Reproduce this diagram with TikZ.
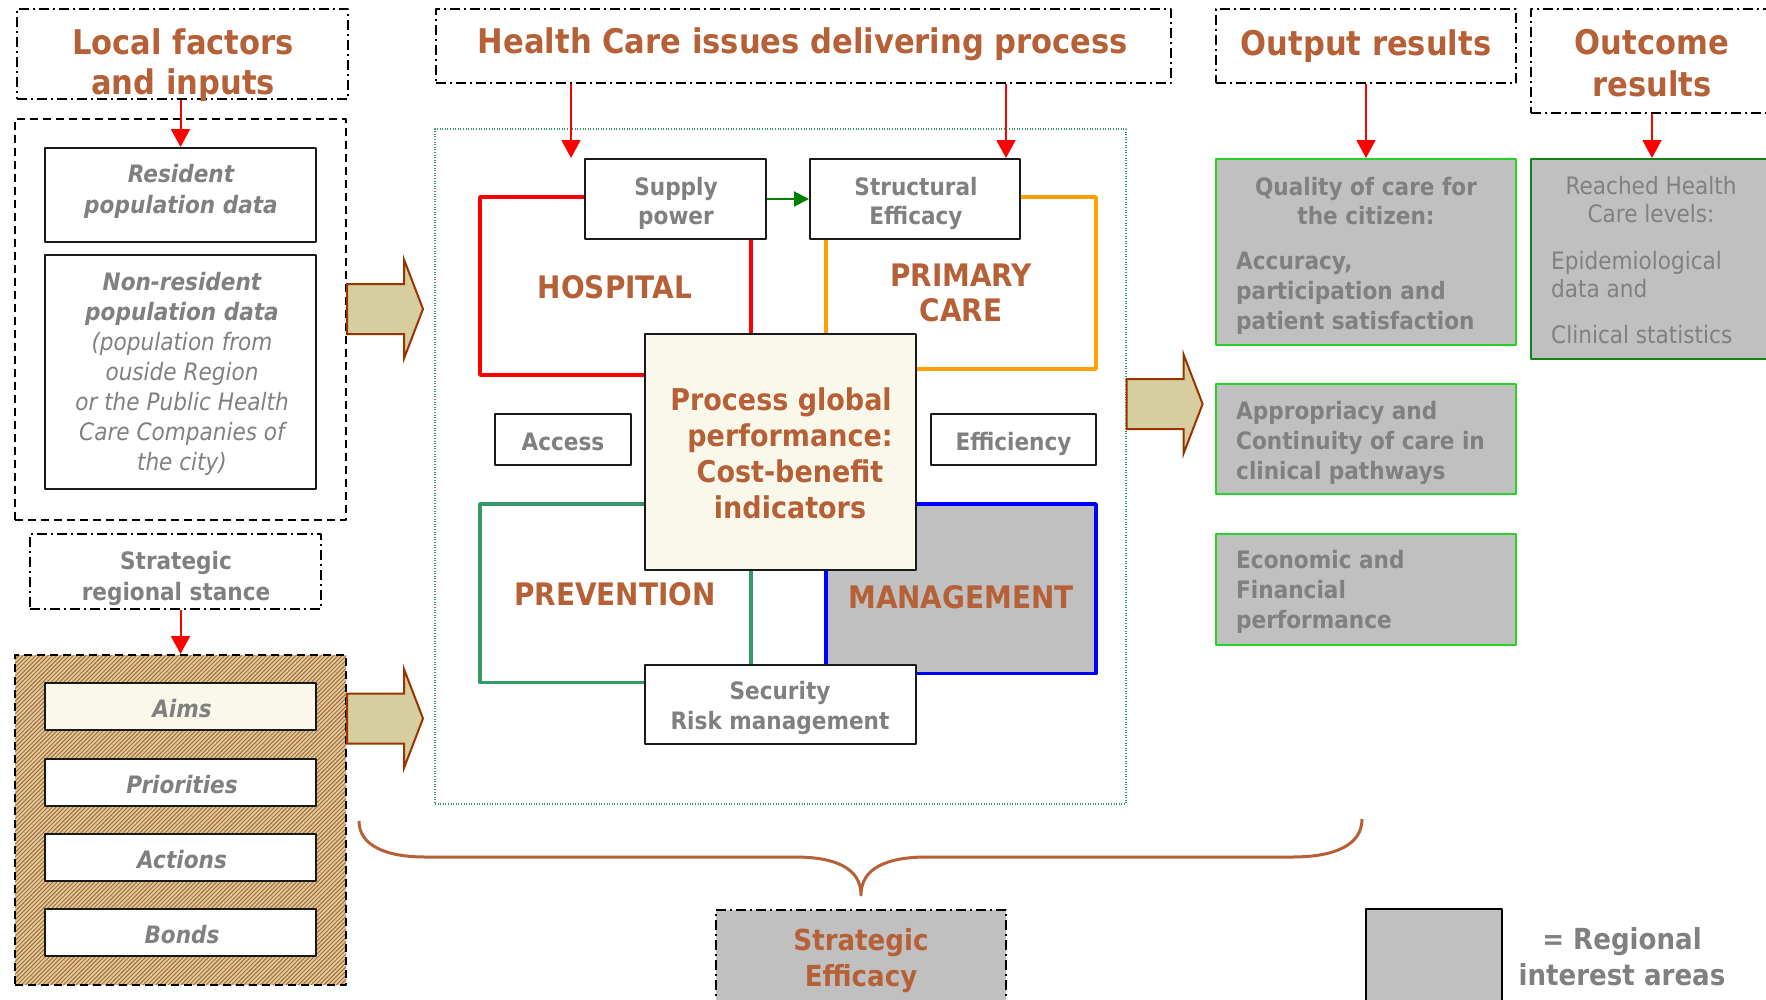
\documentclass[tikz,border=0pt]{standalone}
\usepackage{fontspec}
\setmainfont[FakeStretch=0.9]{DejaVu Sans}
\usetikzlibrary{arrows.meta,fit}

\definecolor{headbrown}{RGB}{181,96,54}
\definecolor{txtgray}{RGB}{128,128,128}
\definecolor{areagray}{RGB}{192,192,192}
\definecolor{khaki}{RGB}{214,206,158}
\definecolor{rust}{RGB}{153,51,0}
\definecolor{stripe}{RGB}{180,104,58}
\definecolor{hospred}{RGB}{255,0,0}
\definecolor{careorange}{RGB}{255,160,0}
\definecolor{prevgreen}{RGB}{51,153,102}
\definecolor{mgmtblue}{RGB}{0,0,255}
\definecolor{outgreen}{RGB}{40,210,40}
\definecolor{darkgreen}{RGB}{20,130,20}
\definecolor{cream}{RGB}{250,248,234}

\newcommand\txtsize[2]{\fontsize{#1}{#2}\selectfont}

% text nodes sit on the baseline of their last line
\tikzset{
  hdbox/.style={draw, line width=2, dash pattern=on 10pt off 4pt on 2pt off 4pt, inner sep=0},
  grpbox/.style={draw, line width=2, dash pattern=on 8pt off 5pt, inner sep=0},
  plainbox/.style={draw=black!90, line width=2, fill=white, inner sep=0},
  areabox/.style={draw=outgreen, line width=2, fill=areagray, inner sep=0},
  quad/.style={line width=3.5, inner sep=0},
  hdtxt/.style={text=headbrown, font=\txtsize{34}{40.7}\bfseries, align=center, anchor=base, inner sep=0},
  quadtxt/.style={text=headbrown, font=\txtsize{31}{35.3}\bfseries, align=center, anchor=base, inner sep=0},
  graytxt/.style={text=txtgray, font=\txtsize{24}{29.6}\bfseries, align=center, anchor=base, inner sep=0},
  redline/.style={draw=red, line width=2},
  greenline/.style={draw=green!50!black, line width=2, -{Triangle[length=15pt,width=15pt]}},
  brace/.style={draw=headbrown, line width=3},
  blockarrow/.pic={
    \draw[draw=rust, fill=khaki, line width=2, line join=miter]
      (0,-25) -- (57,-25) -- (57,-49.5) -- (76,0) -- (57,49.5) -- (57,25) -- (0,25) -- cycle;
  }
}

\begin{document}
\begin{tikzpicture}[x=1pt, y=-1pt, line join=round,
    >={Triangle[length=18pt,width=19pt]}]
  \useasboundingbox (0,0) rectangle (1766,999);
  \clip (0,0) rectangle (1766,999);

  % local factors column
  \node[hdbox, fit={(17,9) (348,99)}] (lfhead) {};
  \node[grpbox, fit={(15,119) (346,520)}] (lfgroup) {};
  \node[plainbox, fit={(45,148) (316,242)}] (resid) {};
  \node[plainbox, fit={(45,255) (316,489)}] (nonres) {};
  \node[hdtxt] (lfhead-t) at (183,94.7) {Local factors\\and inputs};
  \node[graytxt, font=\txtsize{24}{30.4}\bfseries\itshape] (resid-t) at (181,213) {Resident\\population data};
  \node[graytxt, font=\txtsize{24}{29.9}\itshape] (nonres-t) at (182,470)
    {\textbf{Non-resident}\\\textbf{population data}\\(population from\\ouside Region\\or the Public Health\\Care Companies of\\the city)};
  \draw[redline,->] (lfhead.south -| resid.north) -- (resid.north);

  \node[hdbox, fit={(30,534) (321,609)}] (stance) {};
  \node[graytxt, font=\txtsize{24}{31}\bfseries] (stance-t) at (176,600) {Strategic\\regional stance};

  % hatched policy group
  \begin{scope}
    \clip (15,655) rectangle (346,985);
    \fill[khaki] (15,655) rectangle (346,985);
    \foreach \k in {-334,-329.8,...,336}
      \draw[stripe, line width=1] (15+\k,985) -- ++(334,-334);
  \end{scope}
  \node[grpbox, fit={(15,655) (346,985)}] (policy) {};
  \foreach \n/\y/\lbl/\bg in {aims/683/Aims/cream, prio/759/Priorities/white,
      acts/834/Actions/white, bonds/909/Bonds/white} {
    \node[plainbox, fill=\bg, fit={(45,\y) (316,\y+47)}] (\n) {};
    \node[graytxt, font=\txtsize{24}{30}\bfseries\itshape] (\n-t) at (182,\y+34.5) {\lbl};
  }
  \draw[redline,->] (stance.south -| policy.north) -- (policy.north);

  \pic at (lfgroup.east |- 0,309) {blockarrow};
  \pic at (policy.east |- 0,718.5) {blockarrow};

  % delivering process
  \node[hdbox, fit={(436,9) (1171,83)}] (hchead) {};
  \node[hdtxt] (hchead-t) at (803,53) {Health Care issues delivering process};
  \node[draw=prevgreen, line width=1.2, dash pattern=on 1pt off 1.6pt, inner sep=0,
    fit={(435,129) (1126,804)}] (process) {};
  \pic at (process.east |- 0,404) {blockarrow};

  \node[quad, draw=hospred, fit={(480,197) (751,375)}] (hosp) {};
  \node[quad, draw=careorange, fit={(826,197) (1096,369)}] (prim) {};
  \node[quad, draw=prevgreen, fit={(480,504) (751,682.5)}] (prev) {};
  \node[quad, draw=mgmtblue, fill=areagray, fit={(826,504) (1096,673.6)}] (mgmt) {};

  \node[plainbox, fit={(585,159) (766,239)}] (supply) {};
  \node[plainbox, fit={(810,159) (1020,239)}] (struct) {};
  \node[plainbox, fill=cream, fit={(645,334) (916,570)}] (perf) {};
  \node[plainbox, fit={(495,414) (631,465)}] (access) {};
  \node[plainbox, fit={(931,414) (1096,465)}] (effic) {};
  \node[plainbox, fit={(645,665) (916,744)}] (secur) {};
  \draw[greenline] (supply) -- (struct);

  \coordinate (hosptip) at (571,158);
  \coordinate (primtip) at (1006,158);
  \draw[redline,->] (hchead.south -| hosptip) -- (hosptip);
  \draw[redline,->] (hchead.south -| primtip) -- (primtip);

  \node[graytxt] (supply-t) at (676,224.9) {Supply\\power};
  \node[graytxt] (struct-t) at (916,224.9) {Structural\\Efficacy};
  \node[quadtxt] (hosp-t) at (615,298.6) {HOSPITAL};
  \node[quadtxt] (prim-t) at (961,321.8) {PRIMARY\\CARE};
  \node[quadtxt] (prev-t) at (615,605.3) {PREVENTION};
  \node[quadtxt] (mgmt-t) at (961,608.8) {MANAGEMENT};
  \node[hdtxt, font=\txtsize{30}{36}\bfseries] (perf-t) at (790,518.7)
    {Process global\hspace*{18pt}\\performance:\\Cost-benefit\\indicators};
  \node[graytxt] (access-t) at (563,450.4) {Access};
  \node[graytxt] (effic-t) at (1013.5,450.4) {Efficiency};
  \node[graytxt] (secur-t) at (780,729.4) {Security\\Risk management};

  % results columns
  \node[hdbox, fit={(1216,9) (1516,83)}] (outhead) {};
  \node[hdtxt] (outhead-t) at (1366,55) {Output results};
  \node[hdbox, fit={(1531,9) (1800,113)}] (ochead) {};
  \node[hdtxt, font=\txtsize{34}{42.4}\bfseries] (ochead-t) at (1652,96.7) {Outcome\\results};

  \node[areabox, fit={(1216,159) (1516,345)}] (quality) {};
  \node[areabox, draw=darkgreen, fit={(1531,159) (1800,359)}] (reached) {};
  \node[areabox, fit={(1216,384) (1516,494)}] (approp) {};
  \node[areabox, fit={(1216,534) (1516,645)}] (econ) {};
  \draw[redline,->] (outhead) -- (quality);
  \draw[redline,->] (ochead.south -| ochead-t) -- (reached.north -| ochead-t);

  \node[graytxt] (quality-t) at (1366,224.6) {Quality of care for\\the citizen:};
  \node[graytxt, anchor=base west, align=left, font=\txtsize{24}{30.3}\bfseries] (quality-d) at (1236,329.6)
    {Accuracy,\\participation and\\patient satisfaction};
  \node[graytxt, font=\txtsize{24}{28.4}] (reached-t) at (1651,222.7) {Reached Health\\Care levels:};
  \node[graytxt, anchor=base west, align=left, font=\txtsize{24}{28.4}] (reached-d) at (1551,343.3)
    {Epidemiological\\data and\\[17.2pt]Clinical statistics};
  \node[graytxt, anchor=base west, align=left, font=\txtsize{24}{30}\bfseries] (approp-t) at (1236,479.2)
    {Appropriacy and\\Continuity of care in\\clinical pathways};
  \node[graytxt, anchor=base west, align=left, font=\txtsize{24}{30}\bfseries] (econ-t) at (1236,628.8)
    {Economic and\\Financial\\performance};

  % brace down to strategic efficacy
  \draw[brace] (359,821) .. controls (359,845) and (385,857) .. (425,857) -- (795,857)
    .. controls (835,857) and (861,868) .. (861,895)
    .. controls (861,868) and (887,857) .. (927,857) -- (1292,857)
    .. controls (1335,857) and (1362,845) .. (1362,819);

  \node[hdbox, fill=areagray, fit={(716,910) (1006,1020)}] (stratgoal) {};
  \node[hdtxt, font=\txtsize{29}{36}\bfseries] (stratgoal-t) at (861,986) {Strategic\\Efficacy};

  \node[draw, line width=2, fill=areagray, inner sep=0, fit={(1366,909) (1502,1020)}] (legend) {};
  \node[graytxt, font=\txtsize{29}{36}\bfseries] (legend-t) at (1622,985) {= Regional\\interest areas};
\end{tikzpicture}
\end{document}
